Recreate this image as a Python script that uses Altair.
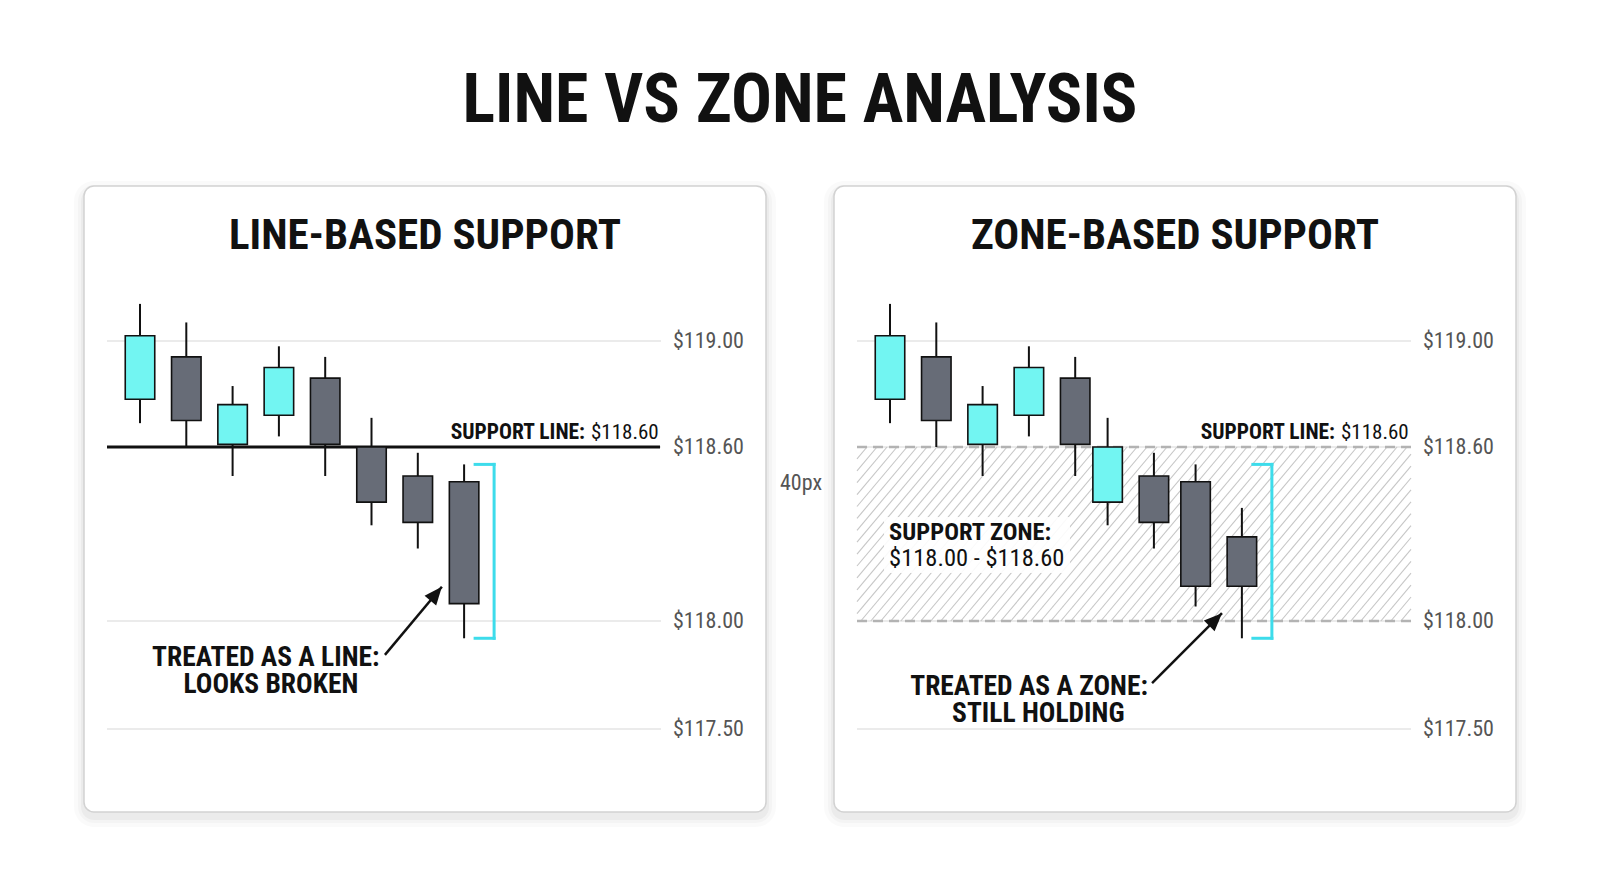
import altair as alt
import pandas as pd

# ---- data -------------------------------------------------------------
# left panel: price treated as a single line
left_slot = [0, 1, 2, 3, 4, 5, 6, 7]
left_open = [118.78, 118.94, 118.61, 118.72, 118.86, 118.60, 118.50, 118.48]
left_close = [119.02, 118.70, 118.76, 118.90, 118.61, 118.41, 118.34, 118.06]
left_high = [119.14, 119.07, 118.83, 118.98, 118.94, 118.71, 118.58, 118.54]
left_low = [118.69, 118.60, 118.50, 118.64, 118.50, 118.33, 118.25, 117.92]

# right panel: price treated as a zone
right_slot = [0, 1, 2, 3, 4, 4.7, 5.7, 6.6, 7.6]
right_open = [118.78, 118.94, 118.61, 118.72, 118.86, 118.41, 118.50, 118.48, 118.29]
right_close = [119.02, 118.70, 118.76, 118.90, 118.61, 118.60, 118.34, 118.12, 118.12]
right_high = [119.14, 119.07, 118.83, 118.98, 118.94, 118.71, 118.58, 118.54, 118.39]
right_low = [118.69, 118.60, 118.50, 118.64, 118.50, 118.33, 118.25, 118.05, 117.92]

price_levels = [119.00, 118.60, 118.00, 117.50]
price_labels = ["$119.00", "$118.60", "$118.00", "$117.50"]

support_price = 118.60
zone_low, zone_high = 118.00, 118.60
bracket_top, bracket_bottom = 118.54, 117.92

# ---- style ------------------------------------------------------------
W, H = 682, 626
PAD_L, PAD_T, PAD_B = 76, 178, 73
FONT = "'Roboto Condensed', 'Liberation Sans Narrow', 'DejaVu Sans Condensed', Roboto, sans-serif"
CYAN = "#72F5F2"
GRAY = "#676C77"
INK = "#111111"
BRACKET = "#3DDCEB"

X_DOMAIN = [-1.2095, 13.5205]
xs = alt.Scale(domain=X_DOMAIN, nice=False, zero=False, padding=0)
ys = alt.Scale(domain=[117.5, 118.0, 118.6, 119.0], range=[543, 435, 261, 155],
               nice=False, zero=False, padding=0)


def X(f):
    return alt.X(f, type="quantitative", scale=xs, axis=None)


def Y(f):
    return alt.Y(f, type="quantitative", scale=ys, axis=None)


def px_to_slot(px):
    return X_DOMAIN[0] + px / W * (X_DOMAIN[1] - X_DOMAIN[0])


def candles_df(slot, o, c, hi, lo):
    df = pd.DataFrame({"slot": slot, "open": o, "close": c, "high": hi, "low": lo})
    df["dir"] = ["up" if b > a else "down" for a, b in zip(o, c)]
    return df


def one_row():
    return alt.Chart(pd.DataFrame({"k": [0]}))


def frame(x0, x1):
    # invisible box that fixes the page margins around the panel
    return one_row().mark_rect(fill="white", opacity=0).encode(
        x=alt.value(x0), x2=alt.value(x1), y=alt.value(-PAD_T), y2=alt.value(H + PAD_B)
    )


def backdrop():
    layers = []
    for d, op in [(10, 0.018), (6, 0.025), (3, 0.035)]:
        layers.append(
            one_row().mark_rect(cornerRadius=10 + d, fill="#000", opacity=op).encode(
                x=alt.value(-d), x2=alt.value(W + d), y=alt.value(-d + 5), y2=alt.value(H + d + 5)
            )
        )
    layers.append(
        one_row().mark_rect(cornerRadius=10, fill="white", stroke="#d2d2d2", strokeWidth=1.5).encode(
            x=alt.value(0), x2=alt.value(W), y=alt.value(0), y2=alt.value(H)
        )
    )
    return layers


def grid_and_labels():
    df = pd.DataFrame({"price": price_levels, "label": price_labels})
    grid = alt.Chart(df).mark_rule(stroke="#e4e4e4", strokeWidth=1.5).encode(
        y=Y("price"), x=alt.value(23), x2=alt.value(577)
    )
    labels = alt.Chart(df).mark_text(
        align="left", baseline="middle", font=FONT, fontSize=22, color="#555555"
    ).encode(y=Y("price"), x=alt.value(589), text="label:N")
    return grid, labels


def candle_layers(df):
    wicks = alt.Chart(df).mark_rule(stroke=INK, strokeWidth=2).encode(
        x=X("slot"), y=Y("low"), y2="high"
    )
    bodies = alt.Chart(df).mark_bar(size=29.5, stroke=INK, strokeWidth=1.6).encode(
        x=X("slot"), y=Y("open"), y2="close",
        color=alt.Color("dir:N", scale=alt.Scale(domain=["up", "down"], range=[CYAN, GRAY]), legend=None),
    )
    return wicks, bodies


def bracket(slot):
    ticks = pd.DataFrame({"slot": [slot, slot], "price": [bracket_top, bracket_bottom]})
    side = pd.DataFrame({"slot": [slot], "top": [bracket_top], "bottom": [bracket_bottom]})
    t = alt.Chart(ticks).mark_rule(stroke=BRACKET, strokeWidth=3, strokeCap="square",
                                   xOffset=11, x2Offset=30).encode(
        x=X("slot"), x2="slot", y=Y("price")
    )
    v = alt.Chart(side).mark_rule(stroke=BRACKET, strokeWidth=3, strokeCap="square",
                                  xOffset=30).encode(
        x=X("slot"), y=Y("top"), y2="bottom"
    )
    return t, v


def support_label():
    df = pd.DataFrame({"price": [support_price]})
    bold = alt.Chart(df).mark_text(
        align="right", baseline="alphabetic", dy=-8, font=FONT, fontSize=21.5,
        fontWeight="bold", color=INK
    ).encode(y=Y("price"), x=alt.value(501), text=alt.value("SUPPORT LINE:"))
    reg = alt.Chart(df).mark_text(
        align="left", baseline="alphabetic", dy=-8, font=FONT, fontSize=21, color=INK
    ).encode(y=Y("price"), x=alt.value(507), text=alt.value("$118.60"))
    return bold, reg


def arrow(tail, tip, angle):
    df = pd.DataFrame({"x0": [tail[0]], "y0": [tail[1]], "x1": [tip[0]], "y1": [tip[1]]})
    shaft = alt.Chart(df).mark_rule(stroke=INK, strokeWidth=2.5).encode(
        x=X("x0"), y=Y("y0"), x2="x1", y2="y1"
    )
    head = alt.Chart(df).mark_point(
        shape="M0,0L0.42,1L-0.42,1Z", size=1296, filled=True, fill=INK,
        opacity=1, angle=angle
    ).encode(x=X("x1"), y=Y("y1"))
    return shaft, head


def note(slots, prices, lines, size, weights, align="center"):
    layers = []
    for s, p, t, w in zip(slots, prices, lines, weights):
        df = pd.DataFrame({"slot": [s], "price": [p], "txt": [t]})
        layers.append(
            alt.Chart(df).mark_text(
                align=align, baseline="alphabetic", font=FONT, fontSize=size,
                fontWeight=w, color=INK
            ).encode(x=X("slot"), y=Y("price"), text="txt:N")
        )
    return layers


def panel_title(text):
    return one_row().mark_text(
        align="center", baseline="alphabetic", font=FONT, fontSize=43,
        fontWeight="bold", color=INK
    ).encode(x=alt.value(W / 2), y=alt.value(63), text=alt.value(text))


# ---- left panel -------------------------------------------------------
grid, labels = grid_and_labels()
ldf = candles_df(left_slot, left_open, left_close, left_high, left_low)
lw, lb = candle_layers(ldf)
support = alt.Chart(pd.DataFrame({"price": [support_price]})).mark_rule(
    stroke=INK, strokeWidth=3
).encode(y=Y("price"), x=alt.value(23), x2=alt.value(576))
lt, lv = bracket(left_slot[-1])
sb, sr = support_label()
la_shaft, la_head = arrow((5.29, 117.843), (6.52, 118.118), 39.7)
left_notes = note([2.717, 2.827], [117.792, 117.668],
                  ["TREATED AS A LINE:", "LOOKS BROKEN"], 27.5, ["bold", "bold"])

main_title = one_row().mark_text(
    align="center", baseline="alphabetic", font=FONT, fontSize=68,
    fontWeight="bold", color=INK
).encode(x=alt.value(716), y=alt.value(-64), text=alt.value("LINE VS ZONE ANALYSIS"))

gap_label = one_row().mark_text(
    align="left", baseline="middle", font=FONT, fontSize=22, color="#555555"
).encode(x=alt.value(696), y=alt.value(297), text=alt.value("40px"))

left = alt.layer(
    frame(-PAD_L, W), *backdrop(), grid, support, lw, lb, lt, lv, sb, sr, la_shaft, la_head,
    *left_notes, labels, panel_title("LINE-BASED SUPPORT"), main_title, gap_label
).properties(width=W, height=H)

# ---- right panel ------------------------------------------------------
grid_r, labels_r = grid_and_labels()
rdf = candles_df(right_slot, right_open, right_close, right_high, right_low)
rw, rb = candle_layers(rdf)

# diagonal hatching inside the support zone
zx0, zx1 = px_to_slot(23), px_to_slot(577)
rise = 0.19          # dollars per slot along a hatch line
step = 0.216         # slots between hatch lines
span = (zone_high - zone_low) / rise
hatch_rows = []
xb = zx0 - span
while xb < zx1:
    a, b = max(xb, zx0), min(xb + span, zx1)
    if b > a:
        hatch_rows.append({"x0": a, "y0": zone_low + (a - xb) * rise,
                           "x1": b, "y1": zone_low + (b - xb) * rise})
    xb += step
hatch = alt.Chart(pd.DataFrame(hatch_rows)).mark_rule(stroke="#c6c6c6", strokeWidth=1.1).encode(
    x=X("x0"), y=Y("y0"), x2="x1", y2="y1"
)
dashed = alt.Chart(pd.DataFrame({"price": [zone_high, zone_low]})).mark_rule(
    stroke="#b3b3b3", strokeWidth=2.5, strokeDash=[10, 6]
).encode(y=Y("price"), x=alt.value(23), x2=alt.value(577))
text_box = one_row().mark_rect(fill="white", opacity=0.9).encode(
    x=alt.value(50), x2=alt.value(236), y=alt.value(331), y2=alt.value(387)
)
zone_notes = note([-0.02, -0.02], [118.279, 118.191],
                  ["SUPPORT ZONE:", "$118.00 - $118.60"], 24.5, ["bold", "normal"], align="left")
rt, rv = bracket(right_slot[-1])
rsb, rsr = support_label()
ra_shaft, ra_head = arrow((5.66, 117.712), (7.17, 118.027), 45)
right_notes = note([3.004, 3.203], [117.657, 117.534],
                   ["TREATED AS A ZONE:", "STILL HOLDING"], 27.5, ["bold", "bold"])

right = alt.layer(
    frame(0, W + PAD_L), *backdrop(), grid_r, hatch, dashed, text_box, *zone_notes, rw, rb, rt, rv,
    rsb, rsr, ra_shaft, ra_head, *right_notes, labels_r, panel_title("ZONE-BASED SUPPORT")
).properties(width=W, height=H)

chart = (
    alt.hconcat(left, right, spacing=68, bounds="flush")
    .properties(padding=0, background="white")
    .configure_view(stroke=None)
)

chart.save("out.html", embed_options={"renderer": "svg", "actions": False})
